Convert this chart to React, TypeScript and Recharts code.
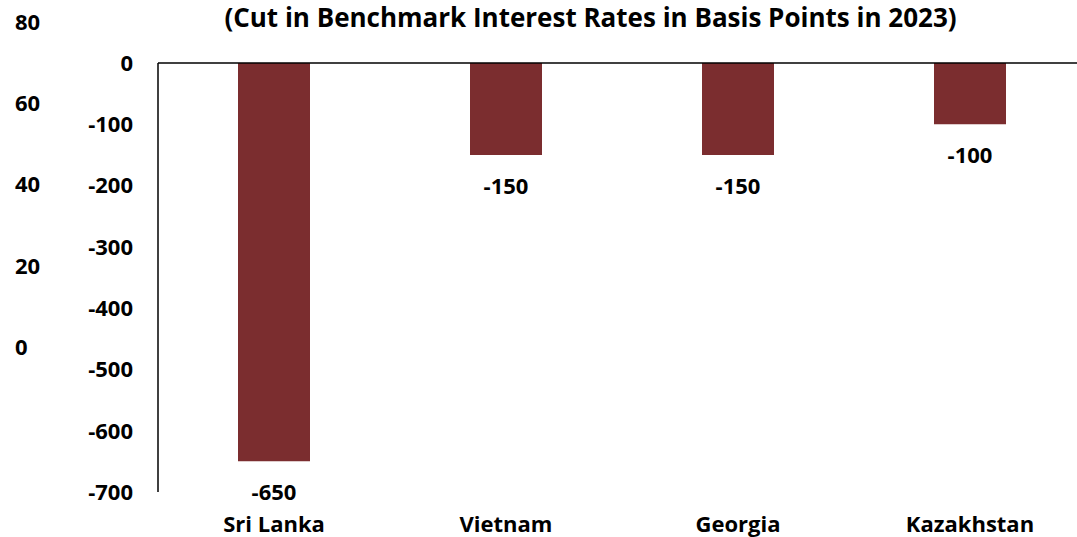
import { BarChart, Bar, XAxis, YAxis, LabelList, ReferenceLine } from "recharts"

const countries = ["Sri Lanka", "Vietnam", "Georgia", "Kazakhstan"]
const rateCuts = [-650, -150, -150, -100]
const yTicks = [0, -100, -200, -300, -400, -500, -600, -700]
const ghostTicks = [0, 20, 40, 60, 80]

const data = countries.map((name, i) => ({ name, cut: rateCuts[i] }))
const ghostData = [{ name: "", v: 0 }]

const FONT = "'Open Sans', 'Noto Sans', sans-serif"
const BAR_COLOR = "#7B2D2F"

const GhostTick = (props: any) => {
  const { y, payload } = props
  return (
    <text x={15} y={y} dy="0.355em" textAnchor="start" fontFamily={FONT} fontWeight={700} fontSize={22} fill="#000">
      {payload.value}
    </text>
  )
}

const BelowLabel = (props: any) => {
  const { x, y, width, height, value } = props
  const bottom = Math.max(Number(y), Number(y) + Number(height))
  return (
    <text
      x={Number(x) + Number(width) / 2}
      y={bottom + 30}
      textAnchor="middle"
      dominantBaseline="central"
      fontFamily={FONT}
      fontWeight={700}
      fontSize={22}
      fill="#000"
    >
      {value}
    </text>
  )
}

export default function App() {
  return (
    <div
      style={{
        position: "fixed",
        left: 0,
        top: 0,
        width: 1077,
        height: 537,
        overflow: "hidden",
        background: "#fff",
      }}
    >
      {/* stray axis on the far left */}
      <div style={{ position: "absolute", left: 0, top: 0 }}>
        <BarChart width={120} height={537} data={ghostData} margin={{ top: 22, right: 0, bottom: 190, left: 0 }}>
          <XAxis dataKey="name" hide />
          <YAxis
            width={60}
            domain={[0, 80]}
            ticks={ghostTicks}
            interval={0}
            axisLine={false}
            tickLine={false}
            tick={<GhostTick />}
          />
          <Bar dataKey="v" fill="none" isAnimationActive={false} />
        </BarChart>
      </div>

      <div style={{ position: "absolute", left: 0, top: 0 }}>
        <BarChart width={1090} height={537} data={data} margin={{ top: 63, right: 4, bottom: 0, left: 0 }} barSize={72}>
          <XAxis
            dataKey="name"
            height={45}
            axisLine={false}
            tickLine={false}
            tickSize={0}
            tickMargin={24}
            interval={0}
            tick={{ fontFamily: FONT, fontWeight: 700, fontSize: 22, fill: "#000" }}
          />
          <YAxis
            width={158}
            domain={[-700, 0]}
            ticks={yTicks}
            interval={0}
            axisLine={{ stroke: "#000", strokeWidth: 1.5 }}
            tickLine={false}
            tickSize={0}
            tickMargin={25}
            tick={{ fontFamily: FONT, fontWeight: 700, fontSize: 22, fill: "#000" }}
          />
          <ReferenceLine y={0} stroke="#000" strokeWidth={1.5} />
          <Bar dataKey="cut" fill={BAR_COLOR} isAnimationActive={false}>
            <LabelList dataKey="cut" content={<BelowLabel />} />
          </Bar>
        </BarChart>
      </div>

      <div
        style={{
          position: "absolute",
          left: 0,
          top: 0,
          width: 1181,
          textAlign: "center",
          fontFamily: FONT,
          fontWeight: 700,
          fontSize: 26,
          lineHeight: "34px",
          color: "#000",
        }}
      >
        (Cut in Benchmark Interest Rates in Basis Points in 2023)
      </div>
    </div>
  )
}
